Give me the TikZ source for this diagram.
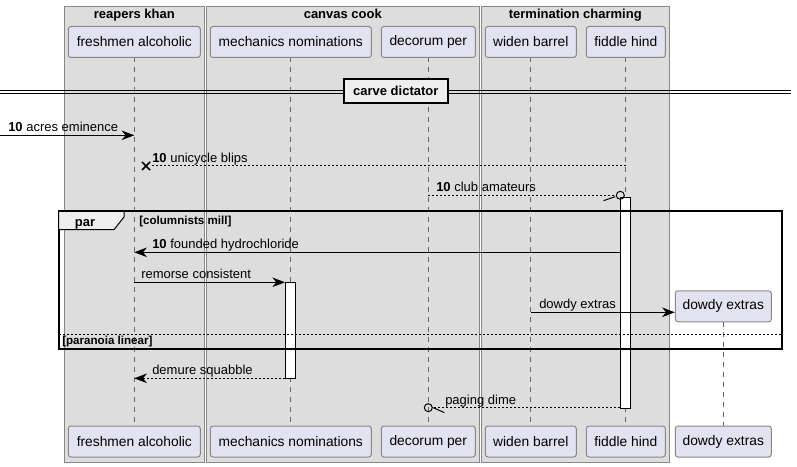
\documentclass[tikz,border=0pt]{standalone}
\usepackage{fontspec}
\setmainfont{Liberation Sans}
\usepackage{tikz}
\usetikzlibrary{arrows.meta}
\definecolor{grpfill}{HTML}{DDDDDD}
\definecolor{grpline}{HTML}{888888}
\definecolor{partfill}{HTML}{E2E2F0}
\definecolor{partline}{HTML}{888888}
\definecolor{tabfill}{HTML}{EEEEEE}
\tikzset{
  grp/.style={draw=grpline,fill=grpfill,line width=0.75pt},
  grptitle/.style={anchor=base,inner sep=0pt,font=\fontsize{9.75}{12}\selectfont\bfseries},
  part/.style={draw=partline,fill=partfill,rounded corners=2pt,minimum height=23.25pt,inner sep=0pt,line width=0.75pt,font=\fontsize{10.35}{12}\selectfont},
  life/.style={draw=black!60,dash pattern=on 3.75pt off 3.75pt,line width=0.6pt},
  act/.style={draw,fill=white,line width=0.75pt,inner sep=0pt,minimum width=7.2pt,anchor=north},
  msg/.style={line width=0.75pt,-{Stealth[length=9.5pt,width=7.2pt,inset=3pt]}},
  ret/.style={msg,dash pattern=on 1.5pt off 1.5pt},
  lbl/.style={anchor=base west,inner sep=0pt,font=\fontsize{9.75}{12}\selectfont},
  guard/.style={anchor=base west,inner sep=0pt,font=\fontsize{8.7}{10}\selectfont\bfseries},
}
\begin{document}
\begin{tikzpicture}[x=0.75pt,y=-0.75pt]
\useasboundingbox (0,0) rectangle (797,467);
% boxes
\foreach \n/\a/\b/\t in {rk/64.3/204.3/reapers khan,cc/206.3/479.3/canvas cook,tc/481.3/669.3/termination charming}{
  \draw[grp] (\a,6.3) rectangle (\b,462.3);
  \node[grptitle] (\n) at ({(\a+\b)/2},18.5) {\t};
}
% participants
\foreach \n/\x/\w/\t in {fa/134.3/132/freshmen alcoholic,mn/290.8/161/mechanics nominations,dp/428.3/94/decorum per,wb/530.8/91/widen barrel,fh/625.8/79/fiddle hind}{
  \draw[life] (\x,57) -- (\x,426);
  \node[part,minimum width=\w*0.75pt] (\n) at (\x,42) {\t};
  \node[part,minimum width=\w*0.75pt] (\n2) at (\x,441.5) {\t};
}
\draw[life] (723.3,322) -- (723.3,426);
\node[part,minimum width=96*0.75pt] (de) at (723.3,306.3) {dowdy extras};
\node[part,minimum width=96*0.75pt] (de2) at (723.3,441.5) {dowdy extras};

% divider
\coordinate (divl) at (0,91.7);
\coordinate (divr) at (790.7,91.7);
\draw[line width=0.75pt] ([yshift=-1.25pt]divl) -- ([yshift=-1.25pt]divr);
\draw[line width=0.75pt] ([yshift=1.25pt]divl) -- ([yshift=1.25pt]divr);
\node[draw,fill=tabfill,line width=1.5pt,minimum width=104*0.75pt,minimum height=24*0.75pt,inner sep=0pt,font=\fontsize{9.75}{12}\selectfont\bfseries] (cd) at (395.8,91.2) {carve dictator};

% activations
\node[act,minimum height=211.6*0.75pt] (fha) at (625.5,196.7) {};
\node[act,minimum height=96*0.75pt] (mna) at (290.3,282.3) {};

% messages
\coordinate (m1) at (0,135.3);
\draw[msg] (m1) -- (m1 -| fa);
\node[lbl] (l1) at (8,131.5) {\textbf{10} acres eminence};

\coordinate (m2) at (146,166);
\draw[ret,-] (fh |- m2) -- ([xshift=3pt]m2);
\draw[line width=1.1pt] ([shift={(-3pt,-3pt)}]m2) -- ([shift={(3pt,3pt)}]m2) ([shift={(-3pt,3pt)}]m2) -- ([shift={(3pt,-3pt)}]m2);
\node[lbl] (l2) at (152,162) {\textbf{10} unicycle blips};

\coordinate (m3) at (620.3,195.3);
\draw[ret,-] (dp |- m3) -- ([xshift=-3pt]m3);
\draw[line width=0.75pt] (m3) circle (3pt);
\draw[line width=0.75pt] ([xshift=-3.8pt,yshift=-1pt]m3) -- ([xshift=-12.5pt,yshift=-4pt]m3);
\node[lbl] (l3) at (436,191.5) {\textbf{10} club amateurs};

\coordinate (m4) at (0,252.3);
\draw[msg] (fha.west |- m4) -- (m4 -| fa);
\node[lbl] (l4) at (152,248.5) {\textbf{10} founded hydrochloride};

\coordinate (m5) at (0,282.3);
\draw[msg] (m5 -| fa) -- (mna.west |- m5);
\node[lbl] (l5) at (141,278.5) {remorse consistent};

\coordinate (m6) at (0,312.3);
\draw[msg] (m6 -| wb) -- (de.west |- m6);
\node[lbl] (l6) at (539,308.5) {dowdy extras};

\coordinate (m7) at (0,378.3);
\draw[ret] (mna.west |- m7) -- (m7 -| fa);
\node[lbl] (l7) at (152,374.5) {demure squabble};

\coordinate (m8) at (428.3,407.7);
\draw[ret,-] (fha.west |- m8) -- ([xshift=3pt]m8);
\draw[line width=0.75pt] (m8) circle (3pt);
\draw[line width=0.75pt] ([xshift=3.8pt]m8) -- ([xshift=12pt,yshift=-3.7pt]m8);
\node[lbl] (l8) at (445,404) {paging dime};

% par
\draw[line width=1.5pt] (58.7,211.3) rectangle (782,348.7);
\draw[fill=tabfill,line width=0.75pt] (58.7,211.3) -- (124,211.3) -- (124,217) -- (114,229.7) -- (58.7,229.7) -- cycle;
\draw[line width=1.5pt] (58.7,211.3) -- (124,211.3);
\node[grptitle] (par) at (85,226) {par};
\node[guard] (g1) at (139,224) {[columnists mill]};
\draw[line width=0.75pt,dash pattern=on 1.5pt off 1.5pt] (58.7,334.7) -- (782,334.7);
\node[guard] (g2) at (62,344.5) {[paranoia linear]};
\end{tikzpicture}
\end{document}
